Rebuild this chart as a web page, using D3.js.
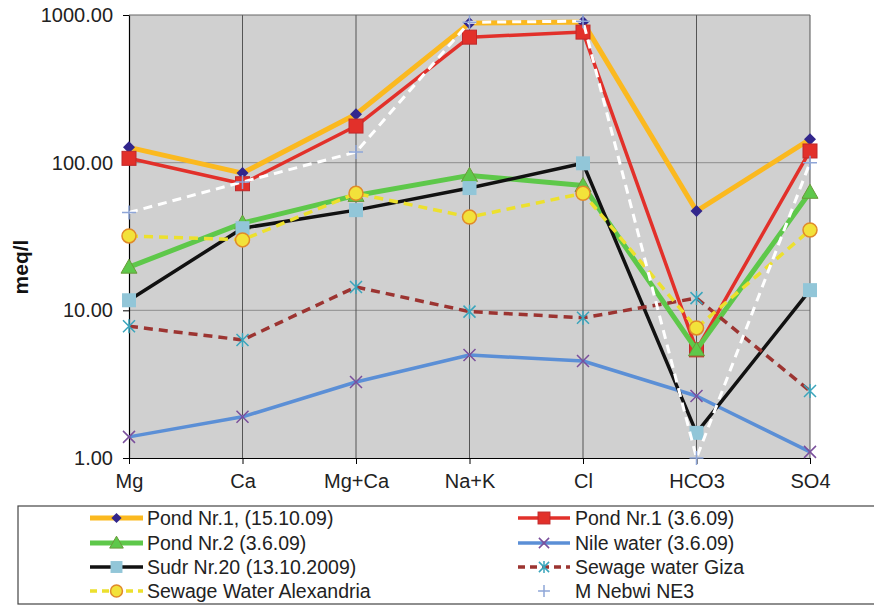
<!DOCTYPE html>
<html>
<head>
<meta charset="utf-8">
<script src="https://cdn.jsdelivr.net/npm/d3@7"></script>
<style>
  html, body { margin: 0; padding: 0; background: #fff; }
  svg { display: block; font-family: "Liberation Sans", Arial, sans-serif; }
</style>
</head>
<body>
<svg id="chart" width="874" height="605"></svg>
<script>
// Ion concentrations (meq/l) per sample
const categories = ["Mg", "Ca", "Mg+Ca", "Na+K", "Cl", "HCO3", "SO4"];
const yTickValues = [1, 10, 100, 1000];

const pond1Oct = [127, 85, 213, 881, 895, 47, 144];
const pond1Jun = [107, 72, 177, 708, 766, 5.4, 120];
const pond2Jun = [19.6, 39, 60, 82, 70, 5.4, 63];
const nileWater = [1.39, 1.9, 3.27, 4.98, 4.54, 2.63, 1.1];
const sudr20 = [11.7, 36, 47.7, 67.3, 99, 1.48, 13.7];
const sewageGiza = [7.8, 6.3, 14.4, 9.8, 8.9, 12.1, 2.84];
const sewageAlex = [31.9, 30, 62, 42.8, 62, 7.6, 35];
const mNebwi = [46, 74, 118, 893, 908, 1.0, 100];

const seriesNames = [
  "Pond Nr.1, (15.10.09)", "Pond Nr.1 (3.6.09)", "Pond Nr.2 (3.6.09)", "Nile water (3.6.09)",
  "Sudr Nr.20 (13.10.2009)", "Sewage water Giza", "Sewage Water Alexandria", "M Nebwi NE3"
];
const seriesValues = [pond1Oct, pond1Jun, pond2Jun, nileWater, sudr20, sewageGiza, sewageAlex, mNebwi];

const styles = [
  { line: "#fbb91f", width: 5, dash: null, marker: "diamond", fill: "#32268c", stroke: "none", size: 6 },
  { line: "#e2302a", width: 3.5, dash: null, marker: "square", fill: "#e2302a", stroke: "#c0282a", size: 7 },
  { line: "#5ec84a", width: 5, dash: null, marker: "triangle", fill: "#5ec84a", stroke: "#6a9a3a", size: 8 },
  { line: "#5b8fd6", width: 3.5, dash: null, marker: "x", fill: "none", stroke: "#7a4f9c", size: 6 },
  { line: "#111111", width: 3.5, dash: null, marker: "square", fill: "#92c6d8", stroke: "none", size: 7 },
  { line: "#9c3431", width: 3.5, dash: "9,6", marker: "asterisk", fill: "none", stroke: "#3aa5bc", size: 6 },
  { line: "#ece02e", width: 3.5, dash: "9,6", marker: "circle", fill: "#f2e23a", stroke: "#e08a2a", size: 7 },
  { line: "#ffffff", width: 3, dash: "9,6", marker: "plus", fill: "none", stroke: "#8fa6d8", size: 7 }
];

const FONT = "'Liberation Sans', Arial, sans-serif";
const svg = d3.select("#chart");
const plot = { left: 129, right: 810, top: 15, bottom: 458 };

const x = d3.scalePoint().domain(categories).range([plot.left, plot.right]).padding(0);
const y = d3.scaleLog().domain([1, 1000]).range([plot.bottom, plot.top]);

// Plot background
svg.append("rect")
  .attr("x", plot.left).attr("y", plot.top)
  .attr("width", plot.right - plot.left).attr("height", plot.bottom - plot.top)
  .attr("fill", "#d0d0d0");

// Horizontal grid lines
svg.append("g").selectAll("line").data([10, 100]).join("line")
  .attr("x1", plot.left).attr("x2", plot.right)
  .attr("y1", d => y(d)).attr("y2", d => y(d))
  .attr("stroke", "#9a9a9a").attr("stroke-width", 1.2);

// Vertical category lines
svg.append("g").selectAll("line").data(categories.slice(1)).join("line")
  .attr("x1", d => x(d)).attr("x2", d => x(d))
  .attr("y1", plot.top).attr("y2", plot.bottom)
  .attr("stroke", "#555").attr("stroke-width", 1);

// Top border
svg.append("line")
  .attr("x1", plot.left).attr("x2", plot.right)
  .attr("y1", plot.top).attr("y2", plot.top)
  .attr("stroke", "#666").attr("stroke-width", 1.2);

// Y axis
const yAxis = d3.axisLeft(y).tickValues(yTickValues).tickFormat(d3.format(".2f"))
  .tickSizeOuter(0).tickSizeInner(6).tickPadding(10);
const gy = svg.append("g").attr("transform", `translate(${plot.left},0)`).call(yAxis);
gy.attr("font-size", 20).attr("font-family", FONT);
gy.select(".domain").attr("stroke", "#000").attr("stroke-width", 1.2);
gy.selectAll(".tick line").attr("stroke", "#000");
gy.selectAll("text").attr("fill", "#222");

// X axis
const xAxis = d3.axisBottom(x).tickSizeOuter(0).tickSizeInner(6).tickPadding(10);
const gx = svg.append("g").attr("transform", `translate(0,${plot.bottom})`).call(xAxis);
gx.attr("font-size", 20).attr("font-family", FONT);
gx.select(".domain").attr("stroke", "#000").attr("stroke-width", 1.2);
gx.selectAll(".tick line").attr("stroke", "#000");
gx.selectAll("text").attr("fill", "#222");

// Y axis title
svg.append("text")
  .attr("transform", "translate(28,267) rotate(-90)")
  .attr("text-anchor", "middle")
  .attr("font-size", 21).attr("font-weight", "bold").attr("fill", "#111")
  .text("meq/l");

function drawMarker(g, st, cx, cy) {
  const s = st.size;
  if (st.marker === "diamond") {
    g.append("path").attr("d", `M${cx},${cy - s} L${cx + s},${cy} L${cx},${cy + s} L${cx - s},${cy} Z`)
      .attr("fill", st.fill);
  } else if (st.marker === "square") {
    g.append("rect").attr("x", cx - s).attr("y", cy - s).attr("width", 2 * s).attr("height", 2 * s)
      .attr("fill", st.fill).attr("stroke", st.stroke === "none" ? null : st.stroke).attr("stroke-width", 1);
  } else if (st.marker === "triangle") {
    g.append("path").attr("d", `M${cx},${cy - s} L${cx + s},${cy + s * 0.75} L${cx - s},${cy + s * 0.75} Z`)
      .attr("fill", st.fill).attr("stroke", st.stroke).attr("stroke-width", 1);
  } else if (st.marker === "circle") {
    g.append("circle").attr("cx", cx).attr("cy", cy).attr("r", s)
      .attr("fill", st.fill).attr("stroke", st.stroke).attr("stroke-width", 1.5);
  } else if (st.marker === "x") {
    g.append("path").attr("d", `M${cx - s},${cy - s} L${cx + s},${cy + s} M${cx - s},${cy + s} L${cx + s},${cy - s}`)
      .attr("stroke", st.stroke).attr("stroke-width", 1.5).attr("fill", "none");
  } else if (st.marker === "asterisk") {
    g.append("path").attr("d", `M${cx - s},${cy - s} L${cx + s},${cy + s} M${cx - s},${cy + s} L${cx + s},${cy - s} M${cx},${cy - s - 1} L${cx},${cy + s + 1}`)
      .attr("stroke", st.stroke).attr("stroke-width", 1.5).attr("fill", "none");
  } else if (st.marker === "plus") {
    g.append("path").attr("d", `M${cx - s},${cy} L${cx + s},${cy} M${cx},${cy - s} L${cx},${cy + s}`)
      .attr("stroke", st.stroke).attr("stroke-width", 1.5).attr("fill", "none");
  }
}

const line = d3.line().x((d, i) => x(categories[i])).y(d => y(d));

// Series lines and markers, in legend order
seriesValues.forEach((vals, si) => {
  const st = styles[si];
  const g = svg.append("g");
  g.append("path").datum(vals)
    .attr("d", line)
    .attr("fill", "none")
    .attr("stroke", st.line)
    .attr("stroke-width", st.width)
    .attr("stroke-dasharray", st.dash)
    .attr("stroke-linejoin", "round");
  vals.forEach((v, i) => drawMarker(g, st, x(categories[i]), y(v)));
});

// Legend
const legend = svg.append("g");
legend.append("rect")
  .attr("x", 18).attr("y", 506).attr("width", 870).attr("height", 98)
  .attr("fill", "#fff").attr("stroke", "#444").attr("stroke-width", 1.2);

const legendCols = [{ x1: 90, x2: 143, tx: 147 }, { x1: 518, x2: 570, tx: 575 }];
const rowY = [518, 543, 567, 591];

seriesNames.forEach((name, si) => {
  const col = legendCols[si % 2];
  const ry = rowY[Math.floor(si / 2)];
  const st = styles[si];
  const g = legend.append("g");
  if (si !== 7) {
    g.append("line").attr("x1", col.x1).attr("x2", col.x2).attr("y1", ry).attr("y2", ry)
      .attr("stroke", st.line).attr("stroke-width", st.width)
      .attr("stroke-dasharray", st.dash ? "7,5" : null);
  }
  drawMarker(g, Object.assign({}, st, { size: st.size * 0.85 }), (col.x1 + col.x2) / 2, ry);
  g.append("text").attr("x", col.tx).attr("y", ry + 7)
    .attr("font-size", 19.5).attr("fill", "#222")
    .text(name);
});
</script>
</body>
</html>
